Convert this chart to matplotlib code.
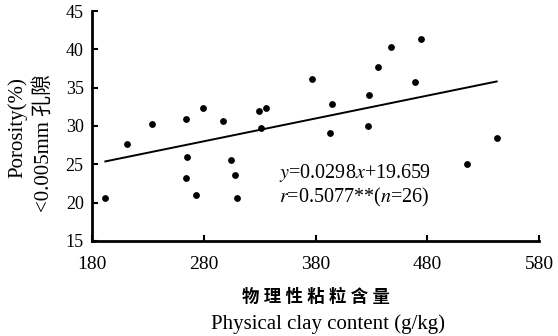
import numpy as np
import matplotlib
matplotlib.use('Agg')
import matplotlib.pyplot as plt

plt.rcParams['font.family'] = ['Liberation Serif', 'Noto Sans CJK SC']
plt.rcParams['mathtext.fontset'] = 'stix'

# physical clay content (g/kg) and porosity (%)
clay = [191.9, 211.5, 233.7, 263.8, 279.6, 265.3, 264.1, 272.8, 296.9, 304.4,
        308.2, 310.0, 329.2, 335.7, 331.5, 376.9, 395.0, 392.7, 428.1, 426.9,
        435.9, 447.3, 474.4, 469.0, 515.3, 542.1]
porosity = [20.6, 27.7, 30.3, 30.9, 32.4, 26.0, 23.2, 21.0, 30.6, 25.6,
            23.6, 20.6, 31.9, 32.4, 29.8, 36.2, 32.9, 29.1, 34.0, 30.0,
            37.7, 40.3, 41.3, 35.7, 25.1, 28.4]
slope = 0.0298
intercept = 19.659
xticks = [180, 280, 380, 480, 580]
yticks = [15, 20, 25, 30, 35, 40, 45]

fig = plt.figure(figsize=(5.58, 3.36), dpi=100)
ax = fig.add_axes([0.165, 0.283, 0.801, 0.684])

ax.scatter(clay, porosity, s=15, color='black', zorder=3)
xl = np.array([min(clay), max(clay)])
ax.plot(xl, slope * xl + intercept, color='black', lw=1.4)

ax.set_xlim(180, 580)
ax.set_ylim(15, 45)
ax.set_xticks(xticks)
ax.set_yticks(yticks)
ax.tick_params(axis='x', direction='in', length=4, width=1.5, labelsize=14, pad=11)
ax.tick_params(axis='y', direction='in', length=4, width=1.5, labelsize=13, pad=6)
for s in ['top', 'right']:
    ax.spines[s].set_visible(False)
for s in ['left', 'bottom']:
    ax.spines[s].set_linewidth(2)

ax.text(0.418, 0.295, '$y$=0.0298$x$+19.659', transform=ax.transAxes,
        fontsize=14.5, va='center')
ax.text(0.418, 0.19, '$r$=0.5077**($n$=26)', transform=ax.transAxes,
        fontsize=14.5, va='center')

fig.text(0.566, 0.115, '物 理 性 粘 粒 含 量', ha='center', va='center',
         fontsize=12.5, fontweight='bold')
fig.text(0.588, 0.035, 'Physical clay content (g/kg)', ha='center', va='center', fontsize=15)
fig.text(0.032, 0.62, 'Porosity(%)', rotation=90, ha='center', va='center', fontsize=15)
fig.text(0.078, 0.575, '<0.005mm 孔隙', rotation=90, ha='center', va='center', fontsize=15)

fig.savefig('out.png', dpi=100)
